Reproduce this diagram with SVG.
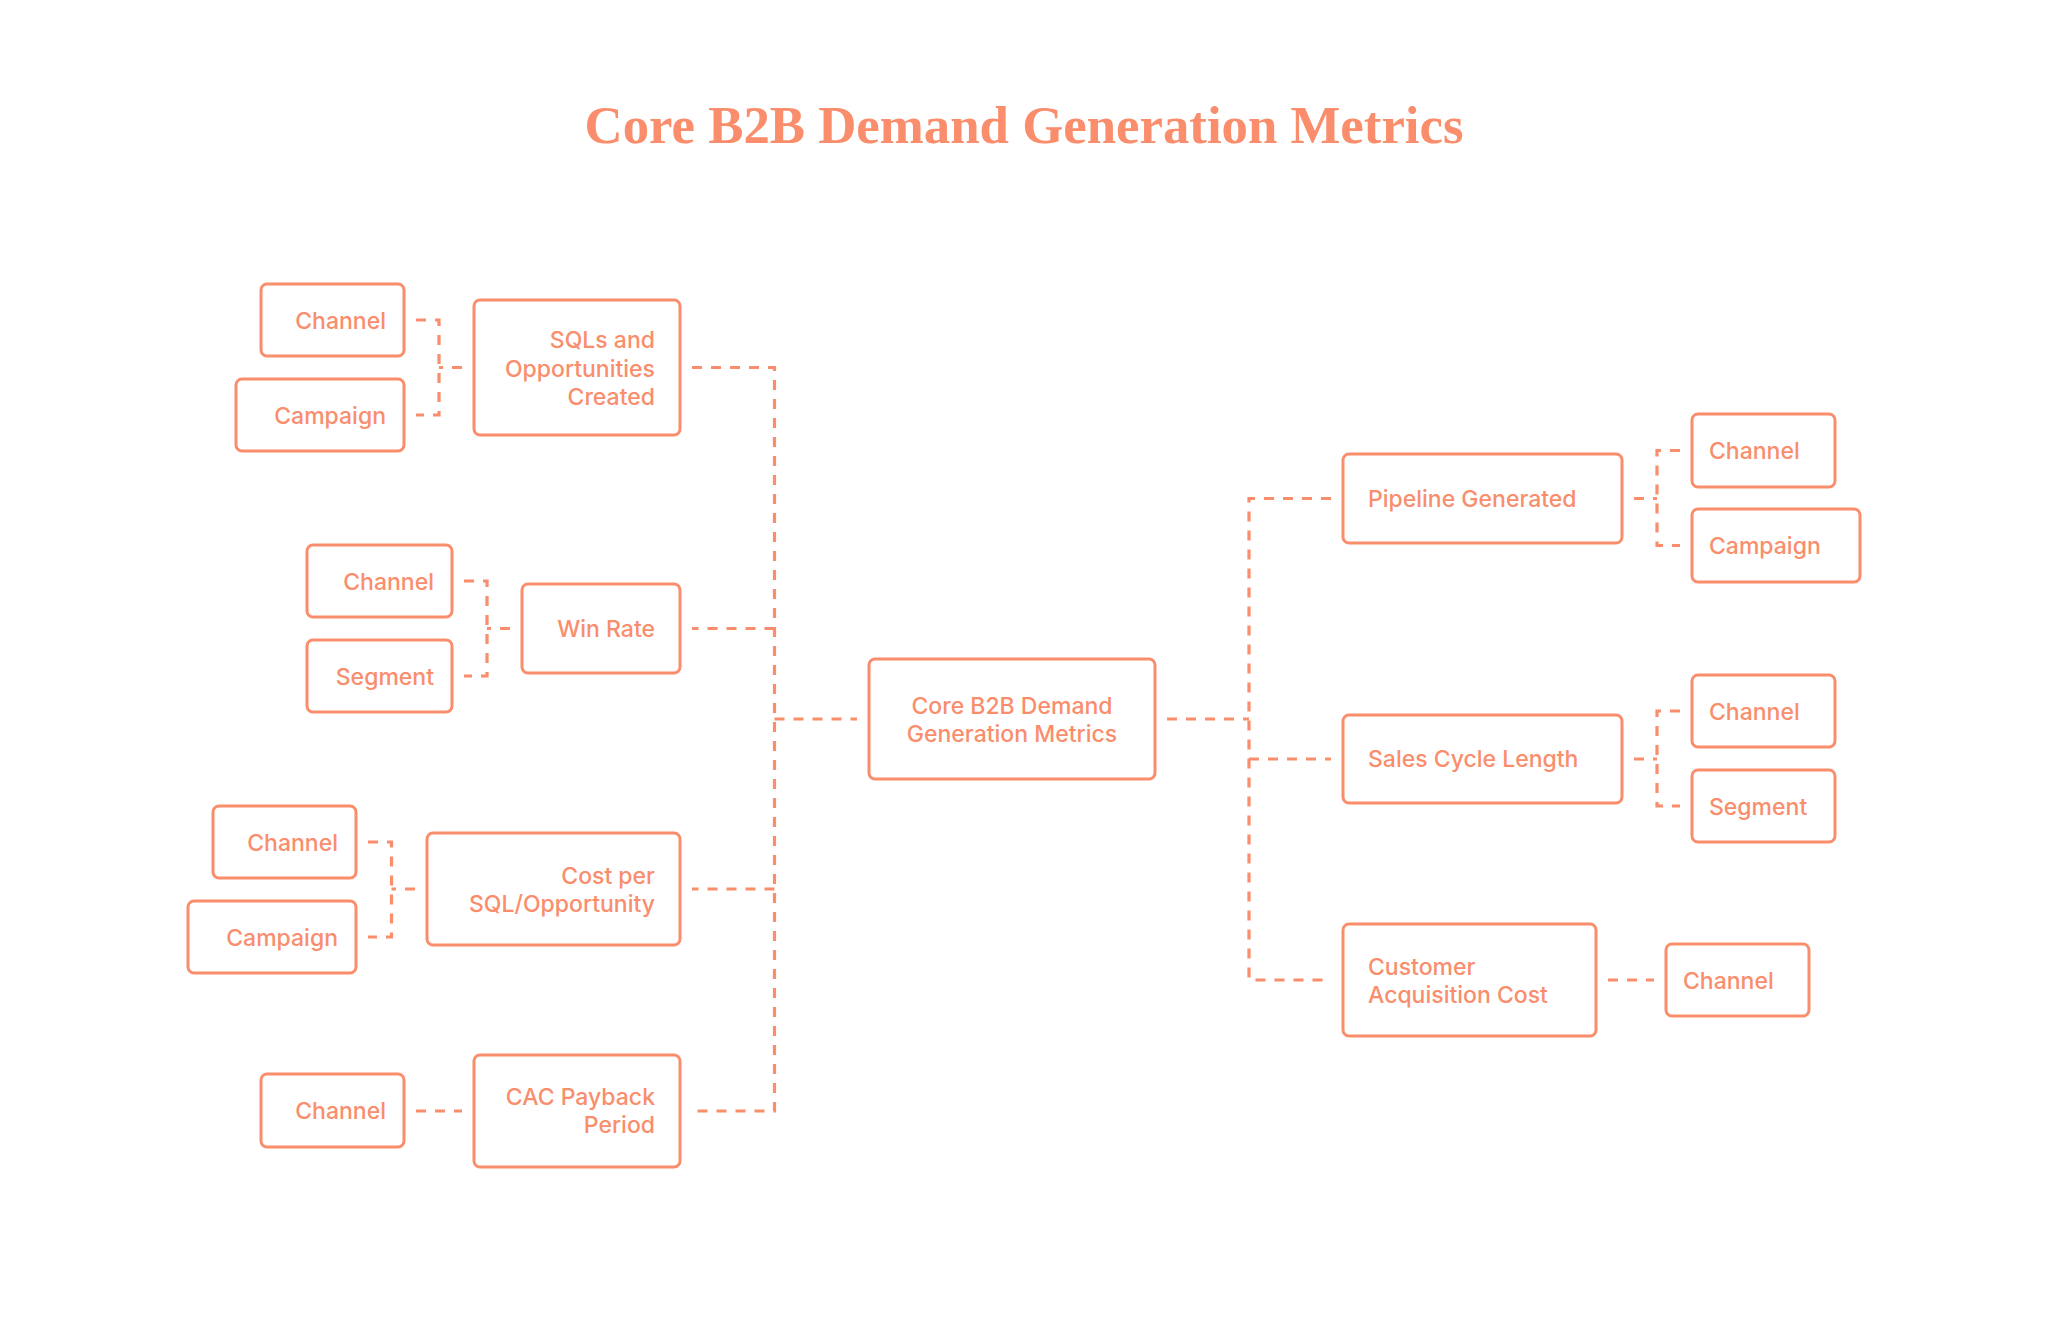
<svg xmlns="http://www.w3.org/2000/svg" width="2048" height="1321" viewBox="0 0 2048 1321">
<style>
.box{fill:#fff;stroke:#F98D6C;stroke-width:3}
.t{font-family:Inter,"Noto Sans",sans-serif;font-size:23px;font-weight:500;fill:#F98D6C}
.e{text-anchor:end}
.m{text-anchor:middle}
.edge{fill:none;stroke:#F98D6C;stroke-width:3.2;stroke-dasharray:10 9}
.title{font-family:"Liberation Serif","DejaVu Serif",serif;font-size:52px;font-weight:bold;fill:#F98D6C}
</style>
<rect width="2048" height="1321" fill="#fff"/>
<text class="title" x="1024" y="143" text-anchor="middle" textLength="879" lengthAdjust="spacingAndGlyphs">Core B2B Demand Generation Metrics</text>
<g id="connectors">
<path class="edge" d="M692 367.5 H774.5 V1111 H692"/>
<path class="edge" d="M774.5 628.5 H692"/>
<path class="edge" d="M774.5 889 H692"/>
<path class="edge" d="M774.5 719 H857"/>
<path class="edge" d="M1167 719 H1249"/>
<path class="edge" d="M1331 498.5 H1249 V980 H1331"/>
<path class="edge" d="M1249 759 H1331"/>
<path class="edge" d="M462 367.5 H439"/>
<path class="edge" d="M416 320 H439 V415 H416"/>
<path class="edge" d="M510 628.5 H487"/>
<path class="edge" d="M464 581 H487 V676 H464"/>
<path class="edge" d="M415 889 H391.5"/>
<path class="edge" d="M368 842 H391.5 V937 H368"/>
<path class="edge" d="M416 1111 H462"/>
<path class="edge" d="M1634 498.5 H1657"/>
<path class="edge" d="M1680 450.5 H1657 V545.5 H1680"/>
<path class="edge" d="M1634 759 H1657"/>
<path class="edge" d="M1680 711 H1657 V806 H1680"/>
<path class="edge" d="M1608 980 H1654"/>
</g>
<g id="sql_channel"><rect class="box" x="261" y="284" width="143" height="72" rx="6"/><text class="t e" x="386" y="329">Channel</text></g>
<g id="sql_campaign"><rect class="box" x="236" y="379" width="168" height="72" rx="6"/><text class="t e" x="386" y="424">Campaign</text></g>
<g id="sqls"><rect class="box" x="474" y="300" width="206" height="135" rx="6"/><text class="t e" x="655" y="348">SQLs and</text><text class="t e" x="655" y="377">Opportunities</text><text class="t e" x="655" y="405">Created</text></g>
<g id="win_channel"><rect class="box" x="307" y="545" width="145" height="72" rx="6"/><text class="t e" x="434" y="590">Channel</text></g>
<g id="win_segment"><rect class="box" x="307" y="640" width="145" height="72" rx="6"/><text class="t e" x="434" y="685">Segment</text></g>
<g id="win_rate"><rect class="box" x="522" y="584" width="158" height="89" rx="6"/><text class="t e" x="655" y="637">Win Rate</text></g>
<g id="cost_channel"><rect class="box" x="213" y="806" width="143" height="72" rx="6"/><text class="t e" x="338" y="851">Channel</text></g>
<g id="cost_campaign"><rect class="box" x="188" y="901" width="168" height="72" rx="6"/><text class="t e" x="338" y="946">Campaign</text></g>
<g id="cost_per_sql"><rect class="box" x="427" y="833" width="253" height="112" rx="6"/><text class="t e" x="655" y="884">Cost per</text><text class="t e" x="655" y="912">SQL/Opportunity</text></g>
<g id="cac_channel"><rect class="box" x="261" y="1074" width="143" height="73" rx="6"/><text class="t e" x="386" y="1119">Channel</text></g>
<g id="cac_payback"><rect class="box" x="474" y="1055" width="206" height="112" rx="6"/><text class="t e" x="655" y="1105">CAC Payback</text><text class="t e" x="655" y="1133">Period</text></g>
<g id="center"><rect class="box" x="869" y="659" width="286" height="120" rx="6"/><text class="t m" x="1012" y="714">Core B2B Demand</text><text class="t m" x="1012" y="742">Generation Metrics</text></g>
<g id="pipeline"><rect class="box" x="1343" y="454" width="279" height="89" rx="6"/><text class="t" x="1368" y="507">Pipeline Generated</text></g>
<g id="pipe_channel"><rect class="box" x="1692" y="414" width="143" height="73" rx="6"/><text class="t" x="1709" y="459">Channel</text></g>
<g id="pipe_campaign"><rect class="box" x="1692" y="509" width="168" height="73" rx="6"/><text class="t" x="1709" y="554">Campaign</text></g>
<g id="sales_cycle"><rect class="box" x="1343" y="715" width="279" height="88" rx="6"/><text class="t" x="1368" y="767">Sales Cycle Length</text></g>
<g id="sales_channel"><rect class="box" x="1692" y="675" width="143" height="72" rx="6"/><text class="t" x="1709" y="720">Channel</text></g>
<g id="sales_segment"><rect class="box" x="1692" y="770" width="143" height="72" rx="6"/><text class="t" x="1709" y="815">Segment</text></g>
<g id="cac"><rect class="box" x="1343" y="924" width="253" height="112" rx="6"/><text class="t" x="1368" y="975">Customer</text><text class="t" x="1368" y="1003">Acquisition Cost</text></g>
<g id="cac_channel_r"><rect class="box" x="1666" y="944" width="143" height="72" rx="6"/><text class="t" x="1683" y="989">Channel</text></g>
</svg>
